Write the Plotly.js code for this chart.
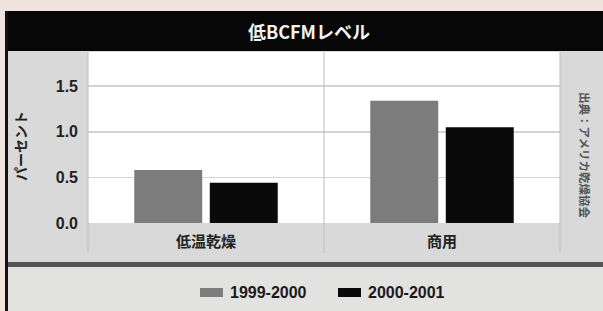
<!DOCTYPE html>
<html>
<head>
<meta charset="utf-8">
<script src="https://cdn.plot.ly/plotly-3.0.1.min.js"></script>
<style>html,body{margin:0;padding:0;background:#efe3de;}#chart{width:603px;height:311px;}</style>
</head>
<body>
<div id="chart"></div>
<script>
// ---- data ----
const categories = ['低温乾燥', '商用'];
const seriesNames = ['1999-2000', '2000-2001'];
const values1999 = [0.58, 1.34];
const values2000 = [0.44, 1.05];
const yTickVals = [0, 0.5, 1.0, 1.5];
const yTickText = ['0.0', '0.5', '1.0', '1.5'];
const chartTitle = '低BCFMレベル';
const yTitle = 'パーセント';
const sourceText = '出典：アメリカ乾燥協会';

// ---- layout helpers (pixel -> paper) ----
const W = 603, H = 311, L = 88, R = 43, T = 52, B = 88;
const pw = W - L - R, ph = H - T - B;
const fx = x => (x - L) / pw;
const fy = y => (H - B - y) / ph;

const colors = ['#7c7c7c', '#0a0a0a'];
const numFont = 'Liberation Sans, Arial, sans-serif';
const cjkFont = 'Noto Sans CJK JP, sans-serif';

const traces = [
  {type: 'bar', x: categories, y: values1999, name: seriesNames[0], marker: {color: colors[0]}, showlegend: false},
  {type: 'bar', x: categories, y: values2000, name: seriesNames[1], marker: {color: colors[1]}, showlegend: false}
];

const rect = (x0, y0, x1, y1, fill) => ({type: 'rect', xref: 'paper', yref: 'paper', layer: 'below',
  x0: fx(x0), x1: fx(x1), y0: fy(y1), y1: fy(y0), fillcolor: fill, line: {width: 0}});
const vline = (x, y0, y1, c, w) => ({type: 'line', xref: 'paper', yref: 'paper', layer: 'above',
  x0: fx(x), x1: fx(x), y0: fy(y1), y1: fy(y0), line: {color: c, width: w}});

const shapes = [
  rect(5, 11, 603, 311, '#d9d9d9'),
  rect(L, T, W - R, H - B, '#ffffff'),
  rect(5, 266, 603, 311, '#e2e2e1'),
  rect(5, 262, 603, 267, '#555555'),
  rect(5, 11, 603, 51, '#070707'),
  rect(5, 11, 8, 311, '#111111'),
  vline(88, 52, 253, '#bdbdbd', 1),
  vline(324, 52, 253, '#bdbdbd', 1),
  vline(560, 52, 253, '#bdbdbd', 1)
];

// manual legend
const legendItems = [
  {sx: 200, tx: 228},
  {sx: 338, tx: 366}
];
const annotations = [
  {xref: 'paper', yref: 'paper', x: fx(309), y: fy(31), text: chartTitle, showarrow: false,
   xanchor: 'center', yanchor: 'middle', font: {family: cjkFont, size: 18, color: '#f2f2f2', weight: 'bold'}},
  {xref: 'paper', yref: 'paper', x: fx(20), y: fy(146), text: yTitle, showarrow: false, textangle: -90,
   xanchor: 'center', yanchor: 'middle', font: {family: cjkFont, size: 14, color: '#222', weight: 'bold'}},
  {xref: 'paper', yref: 'paper', x: fx(585), y: fy(155), text: sourceText, showarrow: false, textangle: 90,
   xanchor: 'center', yanchor: 'middle', font: {family: cjkFont, size: 11.5, color: '#555', weight: 'bold'}}
];
seriesNames.forEach((n, i) => {
  shapes.push(rect(legendItems[i].sx, 288, legendItems[i].sx + 23, 297, colors[i]));
  annotations.push({xref: 'paper', yref: 'paper', x: fx(legendItems[i].tx), y: fy(292.5), text: n, showarrow: false,
    xanchor: 'left', yanchor: 'middle', font: {family: numFont, size: 16, color: '#1a1a1a', weight: 'bold'}});
});

const layout = {
  width: W, height: H,
  margin: {l: L, r: R, t: T, b: B, pad: 0},
  paper_bgcolor: '#efe3de',
  plot_bgcolor: '#ffffff',
  showlegend: false,
  barmode: 'group',
  bargap: 0.36,
  bargroupgap: 0.1,
  xaxis: {type: 'category', showgrid: false, zeroline: false, showline: false, ticks: '',
    ticklabelstandoff: 8,
    tickfont: {family: cjkFont, size: 15, color: '#222', weight: 'bold'}},
  yaxis: {range: [0, 1.875], tickvals: yTickVals, ticktext: yTickText, showgrid: true,
    gridcolor: '#d4d4d4', gridwidth: 1.5, zeroline: false, showline: false, ticks: '',
    ticklabelstandoff: 9,
    tickfont: {family: numFont, size: 16, color: '#222', weight: 'bold'}},
  shapes: shapes,
  annotations: annotations
};

Plotly.newPlot('chart', traces, layout, {displayModeBar: false, staticPlot: true});
</script>
</body>
</html>
